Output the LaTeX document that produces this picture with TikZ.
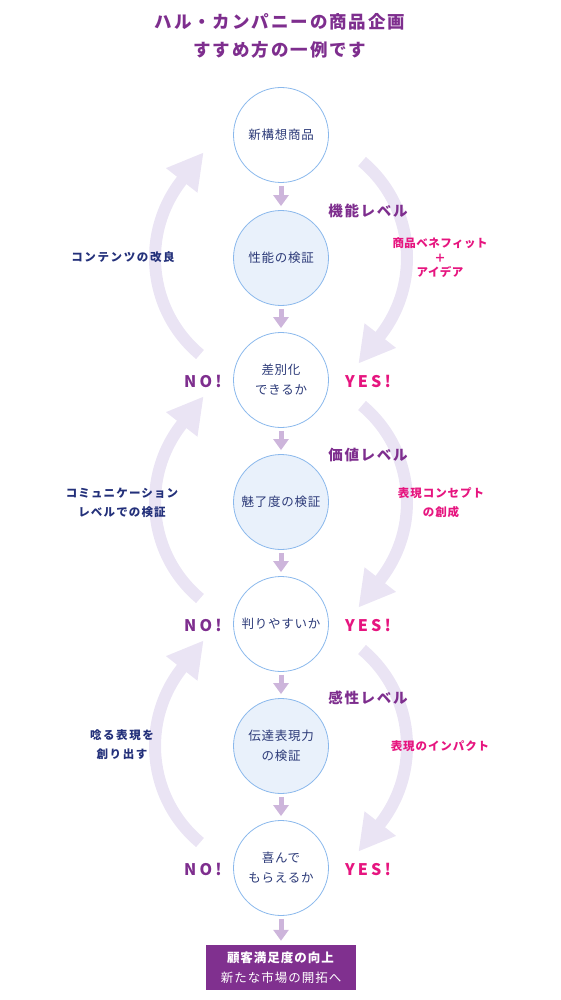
\documentclass[tikz,border=0pt]{standalone}
\usepackage{fontspec}
\setmainfont{Noto Sans CJK JP}
\usetikzlibrary{arrows.meta,calc}
\definecolor{purp}{HTML}{7E2E8E}
\definecolor{pinkc}{HTML}{E6157F}
\definecolor{navy}{HTML}{23307A}
\definecolor{ctext}{HTML}{2C3A78}
\definecolor{ring}{HTML}{8AB8EC}
\definecolor{fillc}{HTML}{E9F1FB}
\definecolor{arcc}{HTML}{EAE4F4}
\definecolor{sarr}{HTML}{CDB5DB}
\definecolor{boxc}{HTML}{80308F}
\begin{document}
\begin{tikzpicture}[x=1pt,y=-1pt,
  circ/.style={circle, draw=ring, line width=0.8pt, minimum size=95pt, inner sep=0pt,
    text=ctext, align=center, font={\fontsize{12.5}{20}\selectfont\addfontfeatures{LetterSpace=6}}},
  chk/.style={circ, fill=fillc},
  flow/.style={draw=sarr, line width=5pt, -{Triangle[width=15pt,length=11pt]}},
  band/.style={draw=arcc, line width=12pt},
  head/.style={fill=arcc},
  lvl/.style={text=purp, font={\fontsize{14.5}{18}\selectfont\bfseries\addfontfeatures{LetterSpace=12}}},
  rlab/.style={text=pinkc, align=center, font={\fontsize{11.5}{19}\selectfont\bfseries\addfontfeatures{LetterSpace=8}}},
  llab/.style={text=navy, align=center, font={\fontsize{11.5}{19}\selectfont\bfseries\addfontfeatures{LetterSpace=14}}},
  nolab/.style={text=purp, font={\fontsize{16}{18}\selectfont\bfseries\addfontfeatures{LetterSpace=20}}},
  yeslab/.style={text=pinkc, font={\fontsize{16}{18}\selectfont\bfseries\addfontfeatures{LetterSpace=20}}},
  titlec/.style={text=purp, align=center, font={\fontsize{17.5}{28}\selectfont\bfseries\addfontfeatures{LetterSpace=11}}},
  endbox/.style={fill=boxc, text=white, minimum width=150pt, minimum height=45pt, inner sep=0pt, align=center,
    font={\fontsize{12.5}{20}\selectfont\addfontfeatures{LetterSpace=8}}}
]
\useasboundingbox (0,0) rectangle (560,1000);

% title
\node[titlec] (title) at (280,36) {ハル・カンパニーの商品企画\\すすめ方の一例です};

% loop arcs
\foreach \cy/\nm in {258/a,502/b,746/c} {
  \coordinate (c\nm) at (281,\cy);
  % right arc (YES side), going down
  \draw[band] ($(c\nm)+(-50:126)$) arc[start angle=-50,end angle=38.5,radius=126];
  \fill[head] ($(c\nm)+(38:146)$) -- ($(c\nm)+(38:126)+(128:35)$) -- ($(c\nm)+(38:106)$) -- cycle;
  % left arc (NO side), going up
  \draw[band] ($(c\nm)+(130:126)$) arc[start angle=130,end angle=218.5,radius=126];
  \fill[head] ($(c\nm)+(218:146)$) -- ($(c\nm)+(218:126)+(308:35)$) -- ($(c\nm)+(218:106)$) -- cycle;
}

% main nodes
\node[circ] (n1) at (281,135) {新構想商品};
\node[chk]  (n2) at (281,258) {性能の検証};
\node[circ] (n3) at (281,380) {差別化\\できるか};
\node[chk]  (n4) at (281,502) {魅了度の検証};
\node[circ] (n5) at (281,624) {判りやすいか};
\node[chk]  (n6) at (281,746) {伝達表現力\\の検証};
\node[circ] (n7) at (281,868) {喜んで\\もらえるか};
\node[endbox] (n8) at (281,967.5) {\textbf{顧客満足度の向上}\\新たな市場の開拓へ};

% flow arrows
\foreach \a/\b in {n1/n2,n2/n3,n3/n4,n4/n5,n5/n6,n6/n7,n7/n8} {
  \draw[flow] ([yshift=-3pt]\a.south) -- ([yshift=4pt]\b.north);
}

% level labels
\node[lvl] (lv1) at (368,211) {機能レベル};
\node[lvl] (lv2) at (368,455) {価値レベル};
\node[lvl] (lv3) at (368,698) {感性レベル};

% right labels
\node[rlab, font={\fontsize{11.5}{14.5}\selectfont\bfseries\addfontfeatures{LetterSpace=4}}] (r1) at (440,258) {商品ベネフィット\\＋\\アイデア};
\node[rlab] (r2) at (441,503) {表現コンセプト\\の創成};
\node[rlab] (r3) at (440,746) {表現のインパクト};

% left labels
\node[llab] (l1) at (123,257) {コンテンツの改良};
\node[llab, font={\fontsize{11.5}{19}\selectfont\bfseries\addfontfeatures{LetterSpace=10}}] (l2) at (122,503) {コミュニケーション\\レベルでの検証};
\node[llab] (l3) at (122,745) {唸る表現を\\創り出す};

% NO / YES
\node[nolab]  (no1)  at (203,381) {NO!};
\node[nolab]  (no2)  at (203,625) {NO!};
\node[nolab]  (no3)  at (203,869) {NO!};
\node[yeslab] (yes1) at (368,381) {YES!};
\node[yeslab] (yes2) at (368,625) {YES!};
\node[yeslab] (yes3) at (368,869) {YES!};
\end{tikzpicture}
\end{document}
